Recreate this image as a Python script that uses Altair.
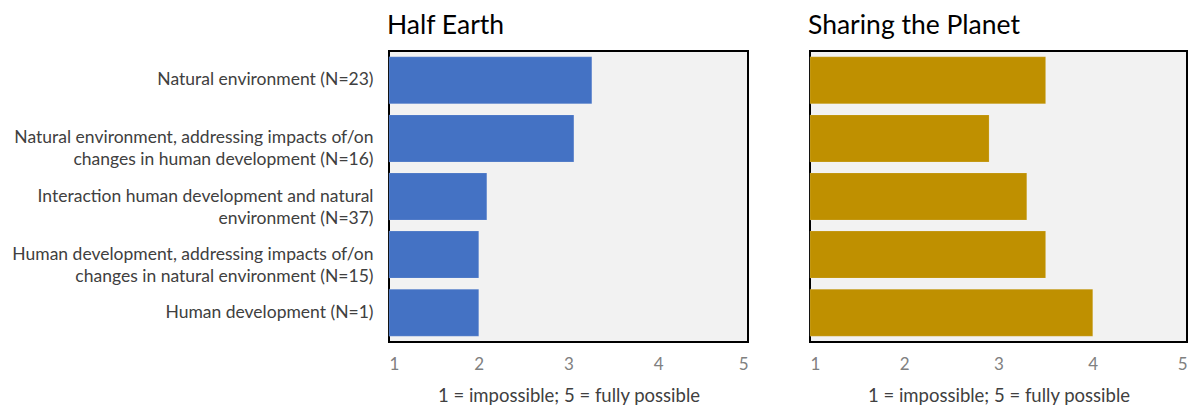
import altair as alt
import pandas as pd

categories = [
    "Natural environment (N=23)",
    "Natural environment, addressing impacts of/on|changes in human development (N=16)",
    "Interaction human development and natural|environment (N=37)",
    "Human development, addressing impacts of/on|changes in natural environment (N=15)",
    "Human development (N=1)",
]
half_earth = [3.26, 3.06, 2.09, 2.0, 2.0]
sharing_planet = [3.5, 2.9, 3.3, 3.5, 4.0]
x_ticks = [1, 2, 3, 4, 5]
x_title = "1 = impossible; 5 = fully possible"

df_he = pd.DataFrame({"cat": categories, "value": half_earth})
df_sp = pd.DataFrame({"cat": categories, "value": sharing_planet})

FONT = "Lato"

def panel(df, title, color, width, show_labels):
    if show_labels:
        yaxis = alt.Axis(
            title=None, ticks=False, domain=False, labelFont=FONT, labelFontSize=17.5,
            labelColor="#404040", labelPadding=16, labelLimit=0,
            labelExpr="split(datum.label, '|')", labelLineHeight=22,
        )
    else:
        yaxis = None
    return (
        alt.Chart(df)
        .mark_bar(color=color, stroke="#ffffff", strokeWidth=0.5, strokeOpacity=0.3)
        .encode(
            y=alt.Y("cat:N", sort=categories, axis=yaxis,
                    scale=alt.Scale(paddingInner=0.19, paddingOuter=0.1)),
            x=alt.X("value:Q",
                    scale=alt.Scale(domain=[1, 5], zero=False, nice=False),
                    axis=alt.Axis(values=x_ticks, title=x_title, grid=False, ticks=False,
                                  domain=False, labelFont=FONT, labelFontSize=17,
                                  labelColor="#808080", labelPadding=14,
                                  titleFont=FONT, titleFontSize=18.5, titleFontWeight="normal",
                                  titleColor="#404040", titlePadding=14, format="d")),
            x2=alt.datum(1),
        )
        .properties(
            width=width, height=291,
            title=alt.TitleParams(title, anchor="start", frame="group", font=FONT,
                                  fontSize=26.5, fontWeight="normal", color="#000000",
                                  offset=12, dx=-2),
        )
    )

left = panel(df_he, "Half Earth", "#4472C4", 359, True)
right = panel(df_sp, "Sharing the Planet", "#BF9000", 377, False)

chart = (
    alt.hconcat(left, right, spacing=58)
    .properties(padding={"left": 10, "top": 11, "right": 5, "bottom": 5})
    .configure_view(fill="#F2F2F2", stroke="#000000", strokeWidth=2)
)

chart.save("out.html", embed_options={"renderer": "svg", "actions": False})
